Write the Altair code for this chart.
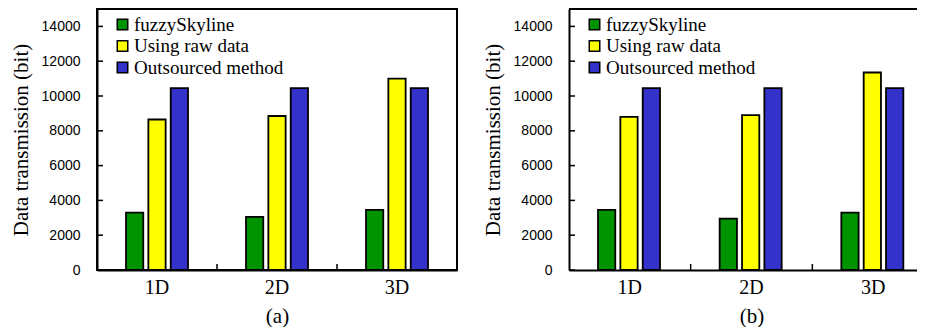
import altair as alt
import pandas as pd

dims = ["1D", "2D", "3D"]
series = ["fuzzySkyline", "Using raw data", "Outsourced method"]
colors = ["#009300", "#FFFF00", "#3333CC"]

fuzzy_a = [3300, 3050, 3450]
raw_a = [8650, 8850, 11000]
out_a = [10450, 10450, 10450]

fuzzy_b = [3450, 2950, 3300]
raw_b = [8800, 8900, 11350]
out_b = [10450, 10450, 10450]

y_ticks = [0, 2000, 4000, 6000, 8000, 10000, 12000, 14000]
x_tick_dims = ["1D", "2D"]

H = 261


def make_df(fz, rw, ou):
    rows = []
    for i, d in enumerate(dims):
        for s, vals in zip(series, [fz, rw, ou]):
            rows.append({"dim": d, "series": s, "value": vals[i]})
    return pd.DataFrame(rows)


def panel(df, caption, width, off_range, open_right=False):
    xscale = alt.Scale(domain=dims, paddingInner=0, paddingOuter=0)
    yscale = alt.Scale(domain=[0, 15000], nice=False)
    xaxis = alt.Axis(title=caption, labelAngle=0, ticks=False,
                     labelPadding=7, titlePadding=8,
                     labelFont="Liberation Serif", labelFontSize=20,
                     titleFont="Liberation Serif", titleFontSize=21,
                     titleFontWeight="normal",
                     labelColor="black", titleColor="black",
                     domainColor="black", domainWidth=2)
    yaxis = alt.Axis(title="Data transmission (bit)", values=y_ticks, ticks=False,
                     format="d", grid=False, labelPadding=17, titlePadding=10,
                     labelFont="Liberation Sans", labelFontSize=14,
                     titleFont="Liberation Serif", titleFontSize=21,
                     titleFontWeight="normal",
                     labelColor="black", titleColor="black",
                     domainColor="black", domainWidth=2)
    bars = alt.Chart(df).mark_bar(stroke="black", strokeWidth=1.8).encode(
        x=alt.X("dim:N", scale=xscale, sort=dims, axis=xaxis),
        xOffset=alt.XOffset("series:N", sort=series,
                            scale=alt.Scale(domain=series, range=off_range,
                                            paddingInner=0.227, paddingOuter=0)),
        y=alt.Y("value:Q", scale=yscale, axis=yaxis),
        color=alt.Color("series:N", sort=series,
                        scale=alt.Scale(domain=series, range=colors),
                        legend=alt.Legend(title=None, orient="none", legendX=16, legendY=6,
                                          symbolType="square", symbolSize=110,
                                          symbolStrokeColor="black", symbolStrokeWidth=1.5,
                                          symbolOpacity=1,
                                          labelFont="Liberation Serif", labelFontSize=19,
                                          labelColor="black", labelOffset=2,
                                          rowPadding=1.5, labelLimit=300)),
    )
    yt = alt.Chart(pd.DataFrame({"value": y_ticks})).mark_rule(color="black", strokeWidth=1.5).encode(
        y=alt.Y("value:Q", scale=yscale, axis=yaxis),
        x=alt.value(0), x2=alt.value(6),
    )
    xt = alt.Chart(pd.DataFrame({"dim": x_tick_dims})).mark_rule(color="black", strokeWidth=1.5).encode(
        x=alt.X("dim:N", scale=xscale, sort=dims, bandPosition=1, axis=xaxis),
        y=alt.value(H), y2=alt.value(H - 6),
    )
    layers = [bars, yt, xt]
    if open_right:
        top = alt.Chart(pd.DataFrame({"dim": ["1D"]})).mark_rule(color="black", strokeWidth=2).encode(
            x=alt.value(0), x2=alt.value(width), y=alt.value(0),
        )
        layers.append(top)
        return alt.layer(*layers).properties(width=width, height=H,
                                             view=alt.ViewBackground(strokeOpacity=0))
    return alt.layer(*layers).properties(width=width, height=H)


left = panel(make_df(fuzzy_a, raw_a, out_a), "(a)", 360, [29, 91])
right = panel(make_df(fuzzy_b, raw_b, out_b), "(b)", 365, [30, 93], open_right=True)

chart = alt.hconcat(left, right, spacing=24).resolve_legend(color="independent").properties(
    padding={"left": 1, "top": 0, "right": -18, "bottom": 0}
).configure(background="white").configure_view(stroke="black", strokeWidth=2)

chart.save("out.html", embed_options={"renderer": "svg", "actions": False})
